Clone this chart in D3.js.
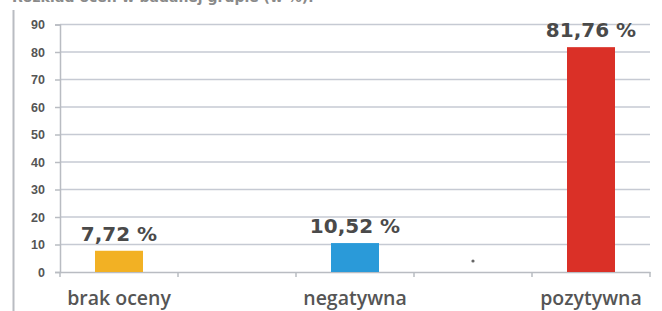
<!DOCTYPE html>
<html>
<head>
<meta charset="utf-8">
<script src="https://cdn.jsdelivr.net/npm/d3@7"></script>
<style>
  body { margin: 0; background: #fff; }
  svg { display: block; font-family: "DejaVu Sans", "Open Sans", sans-serif; }
</style>
</head>
<body>
<div id="chart"></div>
<script>
// categories (the empty slots are gaps on the axis in the original)
var categories = ["brak oceny", "gap1", "negatywna", "gap2", "pozytywna"];
var barCats = ["brak oceny", "negatywna", "pozytywna"];
var barValues = [7.72, 10.52, 81.76];
var barLabels = ["7,72 %", "10,52 %", "81,76 %"];
var yTicks = [0, 10, 20, 30, 40, 50, 60, 70, 80, 90];
var colors = ["#f2b124", "#2a9ad9", "#da3027"];

var W = 662, H = 311;
var margin = {top: 24.5, right: 12, bottom: 39, left: 60};
var width = W - margin.left - margin.right,
    height = H - margin.top - margin.bottom;

var svg = d3.select("#chart")
  .append("svg")
  .attr("width", W)
  .attr("height", H);

// title line, cut off at the top edge like in the scan
svg.append("text")
  .attr("x", 12)
  .attr("y", 2)
  .style("font-size", "14px")
  .style("font-weight", "bold")
  .style("fill", "#8a8a8a")
  .text("Rozkład ocen w badanej grupie (w %).");

// left frame line
svg.append("line")
  .attr("x1", 13.5).attr("x2", 13.5)
  .attr("y1", 10).attr("y2", H)
  .style("stroke", "#b9bcc2")
  .style("stroke-width", 2);

var g = svg.append("g")
  .attr("transform", "translate(" + margin.left + "," + margin.top + ")");

var x = d3.scaleBand().domain(categories).range([0, width]);
var y = d3.scaleLinear().domain([0, 90]).range([height, 0]);

// gridlines
g.append("g")
  .selectAll("line")
  .data(yTicks.slice(1))
  .enter()
  .append("line")
  .attr("x1", 0).attr("x2", width)
  .attr("y1", d => y(d)).attr("y2", d => y(d))
  .style("stroke", "#c6cad3")
  .style("stroke-width", 1.5);

// Y axis
var yAxis = g.append("g")
  .call(d3.axisLeft(y).tickValues(yTicks).tickSize(5).tickPadding(10));
yAxis.select(".domain").style("stroke", "#b9bcc2").style("stroke-width", 1.5);
yAxis.selectAll(".tick line").style("stroke", "#b9bcc2").style("stroke-width", 1.5);
yAxis.selectAll("text")
  .style("font-size", "12.5px")
  .style("font-weight", "bold")
  .style("fill", "#555");

// X axis
var xAxis = g.append("g")
  .attr("transform", "translate(0," + height + ")")
  .call(d3.axisBottom(x).tickSize(0).tickPadding(19)
    .tickFormat(d => barCats.indexOf(d) >= 0 ? d : ""));
xAxis.select(".domain").style("stroke", "#b9bcc2").style("stroke-width", 1.5);
xAxis.selectAll("text")
  .style("font-family", "'Open Sans', sans-serif")
  .style("font-size", "19.5px")
  .style("font-weight", "600")
  .style("fill", "#555");

// band boundary ticks
g.append("g")
  .selectAll("line")
  .data(categories.concat(["end"]))
  .enter()
  .append("line")
  .attr("x1", (d, i) => i * x.step())
  .attr("x2", (d, i) => i * x.step())
  .attr("y1", height).attr("y2", height + 5)
  .style("stroke", "#b9bcc2")
  .style("stroke-width", 1.5);

// bars
var barW = 48;
g.append("g")
  .selectAll("rect")
  .data(barValues)
  .enter()
  .append("rect")
  .attr("x", (d, i) => x(barCats[i]) + x.bandwidth() / 2 - barW / 2)
  .attr("y", d => y(d))
  .attr("width", barW)
  .attr("height", d => height - y(d))
  .style("fill", (d, i) => colors[i]);

// value labels
g.append("g")
  .selectAll("text")
  .data(barValues)
  .enter()
  .append("text")
  .attr("x", (d, i) => x(barCats[i]) + x.bandwidth() / 2)
  .attr("y", d => y(d) - 10)
  .style("text-anchor", "middle")
  .style("font-size", "20px")
  .style("font-weight", "bold")
  .style("fill", "#4a4a4a")
  .text((d, i) => barLabels[i]);

// small stray dot in the empty slot
g.append("circle")
  .attr("cx", x("gap2") + x.bandwidth() / 2)
  .attr("cy", y(4))
  .attr("r", 1.6)
  .style("fill", "#666");
</script>
</body>
</html>
